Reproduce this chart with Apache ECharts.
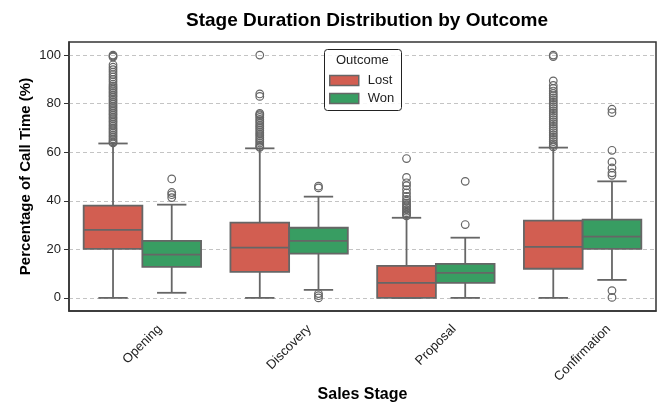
<!DOCTYPE html>
<html>
<head>
<meta charset="utf-8">
<script src="https://cdn.jsdelivr.net/npm/echarts@6/dist/echarts.min.js"></script>
<style>
  html, body { margin: 0; padding: 0; background: #fff; }
  #chart { width: 661px; height: 405px; }
</style>
</head>
<body>
<div id="chart"></div>
<script>
// categories
const stages = ['Opening', 'Discovery', 'Proposal', 'Confirmation'];
const yTicks = [0, 20, 40, 60, 80, 100];

// box stats: [min whisker, Q1, median, Q3, max whisker]
const lostBox = [
  [0, 20.2, 28, 38, 63.6],
  [0, 10.7, 20.7, 31, 61.6],
  [0, 0, 6.2, 13.2, 33],
  [0, 12, 21, 31.8, 61.9]
];
const wonBox = [
  [2.1, 12.8, 17.8, 23.5, 38.4],
  [3.3, 18.2, 23.5, 28.9, 41.7],
  [0, 6.2, 10.3, 14, 24.8],
  [7.4, 20.2, 25.2, 32.2, 48]
];

// outliers per stage
const lostOut = [
  [100, 99.6, 99.2, 96, 95, 94, 93, 92, 91, 90, 89, 88, 87.2, 86.5, 85.8, 85, 84.3, 83.5, 82.8, 82, 81.3, 80.5, 79.8, 79, 78.3, 77.5, 76.8, 76, 75.3, 74.5, 73.8, 73, 72.3, 71.5, 70.8, 70, 69.3, 68.5, 67.8, 67, 66.3, 65.5, 64.8, 64.2, 63.8],
  [100, 84, 83, 76, 75.5, 75, 74.3, 73.5, 72.8, 72, 71.2, 70.5, 69.8, 69, 68.2, 67.5, 66.8, 66, 65.2, 64.5, 63.8, 63, 62.4, 62],
  [57.4, 49.6, 47.4, 46.2, 44.6, 43.2, 41.8, 40.6, 39.8, 39, 38.3, 37.6, 37, 36.3, 35.7, 35, 34.4, 33.8],
  [100, 99.4, 89.4, 87.5, 86.3, 85.2, 84.2, 83.3, 82.4, 81.5, 80.6, 79.7, 78.8, 77.9, 77, 76.1, 75.2, 74.3, 73.4, 72.5, 71.6, 70.7, 69.8, 68.9, 68, 67.1, 66.2, 65.3, 64.4, 63.5, 62.8, 62.2]
];
const wonOut = [
  [49, 43.4, 42.5, 41.3],
  [46, 45.3, 1.8, 0.9, 0],
  [48, 30.2],
  [77.7, 76.3, 60.8, 56, 53.5, 51.5, 50.5, 3, 0.2]
];

const lostColor = '#d25e51';
const wonColor = '#389d62';
const lineColor = '#666666';
const fontFamily = 'Liberation Sans, Arial, sans-serif';

const chart = echarts.init(document.getElementById('chart'));

// box drawing, shift = fraction of band width
function boxRenderer(shift) {
  return function (params, api) {
    const cat = api.value(0);
    const band = api.size([1, 0])[0];
    const w = band * 0.4;
    const cx = api.coord([cat, 0])[0] + shift * band;
    const y = (v) => api.coord([cat, api.value(v)])[1];
    const lo = y(1), q1 = y(2), med = y(3), q3 = y(4), hi = y(5);
    const ls = { stroke: lineColor, lineWidth: 1.8 };
    return {
      type: 'group',
      children: [
        { type: 'line', shape: { x1: cx, y1: q3, x2: cx, y2: hi }, style: ls },
        { type: 'line', shape: { x1: cx, y1: q1, x2: cx, y2: lo }, style: ls },
        { type: 'line', shape: { x1: cx - w / 4, y1: hi, x2: cx + w / 4, y2: hi }, style: ls },
        { type: 'line', shape: { x1: cx - w / 4, y1: lo, x2: cx + w / 4, y2: lo }, style: ls },
        { type: 'rect', shape: { x: cx - w / 2, y: q3, width: w, height: q1 - q3 },
          style: { fill: api.visual('color'), stroke: lineColor, lineWidth: 1.8 } },
        { type: 'line', shape: { x1: cx - w / 2, y1: med, x2: cx + w / 2, y2: med }, style: ls }
      ]
    };
  };
}

function outRenderer(shift) {
  return function (params, api) {
    const band = api.size([1, 0])[0];
    const p = api.coord([api.value(0), api.value(1)]);
    return {
      type: 'circle',
      shape: { cx: p[0] + shift * band, cy: p[1], r: 3.8 },
      style: { fill: 'none', stroke: lineColor, lineWidth: 1.2 }
    };
  };
}

const boxData = (arr) => arr.map((b, i) => [i].concat(b));
const outData = (arr) => {
  const res = [];
  arr.forEach((vals, i) => vals.forEach((v) => res.push([i, v])));
  return res;
};

// rotated labels centred under the tick (top aligned), like matplotlib
const ctx = document.createElement('canvas').getContext('2d');
ctx.font = '13px ' + fontFamily;
const labelRich = {};
stages.forEach((s, i) => {
  const half = ctx.measureText(s).width / 2;
  labelRich['s' + i] = { fontSize: 13, color: '#222', fontFamily: fontFamily, padding: [half, half, 0, 0] };
});

const option = {
  animation: false,
  textStyle: { fontFamily: fontFamily },
  title: {
    text: 'Stage Duration Distribution by Outcome',
    left: 362,
    top: 6,
    textAlign: 'center',
    textStyle: { fontSize: 19, fontWeight: 'bold', color: '#000' }
  },
  legend: {
    orient: 'vertical',
    left: 324,
    top: 69,
    itemWidth: 29,
    itemHeight: 10,
    itemGap: 5,
    textStyle: { fontSize: 13, color: '#222', padding: [0, 0, 0, 4] },
    data: [
      { name: 'Lost', icon: 'rect', itemStyle: { color: lostColor, borderColor: lineColor, borderWidth: 1.5 } },
      { name: 'Won', icon: 'rect', itemStyle: { color: wonColor, borderColor: lineColor, borderWidth: 1.5 } }
    ]
  },
  graphic: [
    { type: 'rect', left: 324, top: 49, shape: { width: 77, height: 61, r: 3 },
      style: { fill: 'rgba(255,255,255,0.85)', stroke: '#222', lineWidth: 1 }, z: 1 },
    { type: 'text', left: 336, top: 54,
      style: { text: 'Outcome', fontSize: 13, fill: '#222', fontFamily: fontFamily }, z: 2 }
  ],
  grid: {
    left: 69, right: 5, top: 42, bottom: 94,
    outerBoundsMode: 'none',
    show: true, borderColor: '#333', borderWidth: 1.5
  },
  xAxis: {
    type: 'category',
    data: stages,
    name: 'Sales Stage',
    nameLocation: 'middle',
    nameGap: 76,
    nameMoveOverlap: false,
    nameTextStyle: { fontSize: 16, fontWeight: 'bold', color: '#000' },
    axisLine: { onZero: false, lineStyle: { color: '#333', width: 1.5 } },
    axisTick: { alignWithLabel: true, length: 5, lineStyle: { color: '#333' } },
    axisLabel: {
      rotate: 45, align: 'center', verticalAlign: 'middle', margin: 16,
      formatter: (v, i) => '{s' + i + '|' + v + '}',
      rich: labelRich
    },
    splitLine: { show: false }
  },
  yAxis: {
    type: 'value',
    min: -5.4,
    max: 105.4,
    name: 'Percentage of Call Time (%)',
    nameLocation: 'middle',
    nameGap: 36,
    nameMoveOverlap: false,
    nameTextStyle: { fontSize: 15, fontWeight: 'bold', color: '#000' },
    axisLine: { show: true, lineStyle: { color: '#333', width: 1.5 } },
    axisTick: { show: true, length: 5, customValues: yTicks, lineStyle: { color: '#333' } },
    axisLabel: { fontSize: 13, color: '#222', customValues: yTicks, margin: 8 },
    splitLine: { show: true, lineStyle: { color: '#c4c4c4', type: [4, 3], width: 1 } }
  },
  series: [
    { name: 'Lost', type: 'custom', itemStyle: { color: lostColor }, renderItem: boxRenderer(-0.2),
      encode: { x: 0, y: [1, 2, 3, 4, 5] }, data: boxData(lostBox), z: 3 },
    { name: 'Won', type: 'custom', itemStyle: { color: wonColor }, renderItem: boxRenderer(0.2),
      encode: { x: 0, y: [1, 2, 3, 4, 5] }, data: boxData(wonBox), z: 3 },
    { name: 'Lost', type: 'custom', itemStyle: { color: lostColor }, renderItem: outRenderer(-0.2),
      encode: { x: 0, y: 1 }, data: outData(lostOut), z: 3 },
    { name: 'Won', type: 'custom', itemStyle: { color: wonColor }, renderItem: outRenderer(0.2),
      encode: { x: 0, y: 1 }, data: outData(wonOut), z: 3 }
  ]
};

chart.setOption(option);
</script>
</body>
</html>
